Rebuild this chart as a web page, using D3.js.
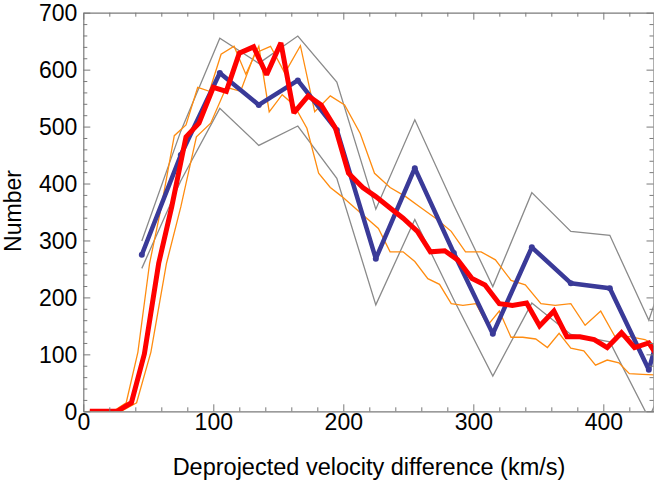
<!DOCTYPE html>
<html>
<head>
<meta charset="utf-8">
<script src="https://cdn.jsdelivr.net/npm/d3@7"></script>
<style>
  html, body { margin: 0; padding: 0; background: #fff; }
  svg { display: block; }
  text { font-family: "Liberation Sans", Arial, Helvetica, sans-serif; fill: #000; }
</style>
</head>
<body>
<script>
// ---- data ----
const blueX  = [45, 75, 105, 135, 165, 195, 225, 255, 285, 315, 345, 375, 405, 435, 465];
const blueY  = [275, 450, 594, 538, 581, 494, 268, 427, 278, 136, 288, 225, 216, 73, 320];
const grayHiY = [299, 492, 655, 611, 659, 578, 355, 512, 362, 219, 384, 316, 309, 160, 360];
const grayLoY = [251, 405, 532, 467, 501, 409, 187, 337, 196, 62, 190, 135, 122, -12, 140];

const redX = [5, 16, 26, 37, 47, 58, 68, 79, 89, 100, 110, 120, 131, 141, 152, 162, 173, 183, 194, 204, 215, 225, 236, 246, 257, 267, 278, 288, 299, 309, 320, 330, 341, 351, 362, 372, 382, 393, 403, 414, 424, 435, 445];
const redY = [0, 0, 0, 15, 101, 260, 359, 482, 506, 569, 562, 629, 640, 591, 647, 524, 554, 538, 497, 418, 393, 377, 357, 339, 316, 280, 282, 266, 233, 222, 189, 186, 190, 150, 176, 131, 131, 126, 112, 138, 112, 120, 85];

const orangeLoX = [4, 14, 23, 33, 42, 51, 60, 70, 79, 88, 97, 106, 116, 125, 135, 143, 153, 162, 172, 181, 190, 199, 209, 218, 227, 236, 246, 255, 265, 274, 283, 292, 302, 311, 320, 329, 338, 348, 357, 366, 375, 385, 394, 403, 412, 420, 430, 439];
const orangeLoY = [0, 0, 0, 15, 104, 260, 359, 484, 503, 569, 562, 627, 641, 592, 641, 526, 556, 538, 497, 418, 393, 377, 357, 339, 321, 280, 280, 263, 233, 223, 189, 186, 189, 151, 176, 130, 130, 127, 112, 137, 111, 106, 81, 90, 85, 66, 65, 64];

const orangeHiX = [6, 18, 29, 41, 52, 64, 75, 87, 98, 110, 121, 132, 144, 155, 167, 178, 190, 201, 213, 224, 236, 248, 260, 271, 283, 294, 306, 317, 329, 340, 352, 363, 375, 386, 398, 409, 420, 432, 443];
const orangeHiY = [0, 0, 0, 15, 104, 260, 359, 482, 506, 569, 562, 629, 641, 594, 642, 526, 554, 538, 488, 418, 393, 377, 357, 339, 316, 280, 280, 266, 230, 222, 189, 186, 189, 151, 176, 131, 131, 126, 112];

const xMajorTicks = [0, 100, 200, 300, 400];
const yMajorTicks = [0, 100, 200, 300, 400, 500, 600, 700];
const xTitle = "Deprojected velocity difference (km/s)";
const yTitle = "Number";

(function () {
// ---- layout ----
const W = 654, H = 481;
const mL = 83.3, mR = 653.5, mT = 12.7, mB = 411.3;

const x = d3.scaleLinear().domain([0, 438.6]).range([mL, mR]);
const y = d3.scaleLinear().domain([0, 700]).range([mB, mT]);

const svg = d3.select("body").append("svg").attr("width", W).attr("height", H);

svg.append("defs").append("clipPath").attr("id", "plotclip")
  .append("rect").attr("x", mL).attr("y", mT).attr("width", mR - mL).attr("height", mB - mT);

const zip = (xs, ys) => xs.map((v, i) => [v, ys[i]]);
const line = d3.line().x(d => x(d[0])).y(d => y(d[1]));

const plot = svg.append("g").attr("clip-path", "url(#plotclip)");

const gray = "#8a8a8a", orange = "#ff8c10", blue = "#3a3a98", red = "#ff0000";

plot.append("path").datum(zip(blueX, grayHiY)).attr("d", line)
  .attr("fill", "none").attr("stroke", gray).attr("stroke-width", 1.3);
plot.append("path").datum(zip(blueX, grayLoY)).attr("d", line)
  .attr("fill", "none").attr("stroke", gray).attr("stroke-width", 1.3);

plot.append("path").datum(zip(orangeLoX, orangeLoY)).attr("d", line)
  .attr("fill", "none").attr("stroke", orange).attr("stroke-width", 1.3);
plot.append("path").datum(zip(orangeHiX, orangeHiY)).attr("d", line)
  .attr("fill", "none").attr("stroke", orange).attr("stroke-width", 1.3);

plot.append("path").datum(zip(blueX, blueY)).attr("d", line)
  .attr("fill", "none").attr("stroke", blue).attr("stroke-width", 4.5)
  .attr("stroke-linejoin", "round");
plot.selectAll("circle.bm").data(zip(blueX, blueY)).enter().append("circle")
  .attr("class", "bm").attr("cx", d => x(d[0])).attr("cy", d => y(d[1])).attr("r", 3)
  .attr("fill", blue);

plot.append("path").datum(zip(redX, redY)).attr("d", line)
  .attr("fill", "none").attr("stroke", red).attr("stroke-width", 5)
  .attr("stroke-linejoin", "miter").attr("stroke-miterlimit", 2);

// ---- frame & ticks ----
const frameColor = "#7a7a7a";
const xMinor = d3.range(0, 440, 20).filter(v => v % 100 !== 0);
const yMinor = d3.range(0, 701, 20).filter(v => v % 100 !== 0);

function styleAxis(g) {
  g.select(".domain").attr("stroke", frameColor).attr("stroke-width", 1.2);
  g.selectAll(".tick line").attr("stroke", frameColor).attr("stroke-width", 1);
}
function minor(g) {
  g.select(".domain").remove();
  g.selectAll(".tick line").attr("stroke", frameColor);
}

// bottom
const gb = svg.append("g").attr("transform", `translate(0,${mB})`)
  .call(d3.axisBottom(x).tickValues(xMajorTicks).tickSizeInner(-7).tickSizeOuter(0).tickPadding(0).tickFormat(d3.format("d")));
styleAxis(gb);
gb.selectAll(".tick text").attr("font-size", 23).attr("dy", null).attr("y", 19)
  .attr("font-family", "Liberation Sans, Arial, sans-serif");
svg.append("g").attr("transform", `translate(0,${mB})`)
  .call(d3.axisBottom(x).tickValues(xMinor).tickSizeInner(-4).tickSizeOuter(0).tickFormat(""))
  .call(minor);

// top
const gt = svg.append("g").attr("transform", `translate(0,${mT})`)
  .call(d3.axisTop(x).tickValues(xMajorTicks).tickSizeInner(-7).tickSizeOuter(0).tickFormat(""));
styleAxis(gt);
svg.append("g").attr("transform", `translate(0,${mT})`)
  .call(d3.axisTop(x).tickValues(xMinor).tickSizeInner(-4).tickSizeOuter(0).tickFormat(""))
  .call(minor);

// left
const gl = svg.append("g").attr("transform", `translate(${mL},0)`)
  .call(d3.axisLeft(y).tickValues(yMajorTicks).tickSizeInner(-7).tickSizeOuter(0).tickPadding(0).tickFormat(d3.format("d")));
styleAxis(gl);
gl.selectAll(".tick text").attr("font-size", 23).attr("x", -6).attr("dy", "0.36em")
  .attr("font-family", "Liberation Sans, Arial, sans-serif");
svg.append("g").attr("transform", `translate(${mL},0)`)
  .call(d3.axisLeft(y).tickValues(yMinor).tickSizeInner(-4).tickSizeOuter(0).tickFormat(""))
  .call(minor);

// right
const gr = svg.append("g").attr("transform", `translate(${mR},0)`)
  .call(d3.axisRight(y).tickValues(yMajorTicks).tickSizeInner(-7).tickSizeOuter(0).tickFormat(""));
styleAxis(gr);
svg.append("g").attr("transform", `translate(${mR},0)`)
  .call(d3.axisRight(y).tickValues(yMinor).tickSizeInner(-4).tickSizeOuter(0).tickFormat(""))
  .call(minor);

// titles
svg.append("text").attr("x", 369).attr("y", 475).attr("text-anchor", "middle")
  .attr("font-size", 23.5).text(xTitle);
svg.append("text").attr("transform", "translate(21,211) rotate(-90)")
  .attr("text-anchor", "middle").attr("font-size", 23).text(yTitle);
})();
</script>
</body>
</html>
